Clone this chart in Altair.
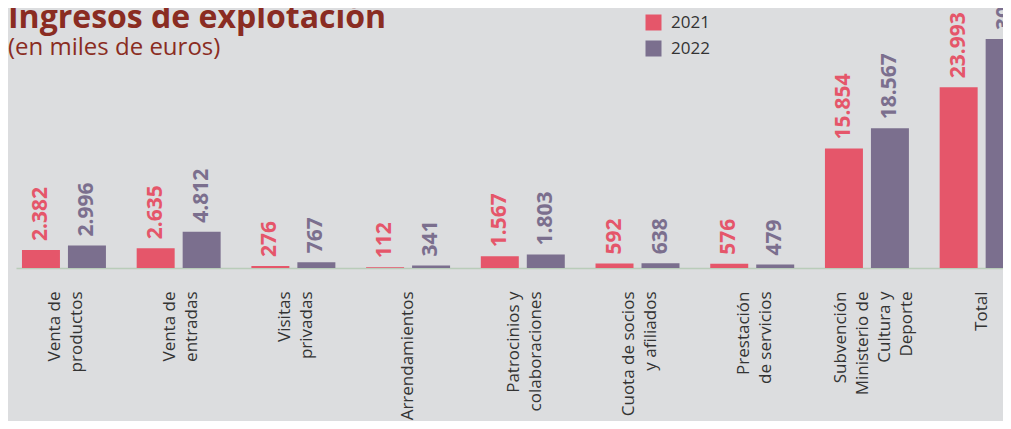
import altair as alt
import pandas as pd

title_text = ["Ingresos de explotación"]
subtitle_text = ["(en miles de euros)"]
categories = [
    "Venta de|productos",
    "Venta de|entradas",
    "Visitas|privadas",
    "Arrendamientos",
    "Patrocinios y|colaboraciones",
    "Cuota de socios|y afiliados",
    "Prestación|de servicios",
    "Subvención|Ministerio de|Cultura y|Deporte",
    "Total",
]
years = ["2021", "2022"]
values_2021 = [2382, 2635, 276, 112, 1567, 592, 576, 15854, 23993]
values_2022 = [2996, 4812, 767, 341, 1803, 638, 479, 18567, 30403]

rows = []
for c, a, b in zip(categories, values_2021, values_2022):
    rows.append({"cat": c, "year": "2021", "value": a})
    rows.append({"cat": c, "year": "2022", "value": b})
df = pd.DataFrame(rows)

BG = "#DCDDDF"
RED = "#E5566A"
PURPLE = "#7B6F8E"
TITLE_COLOR = "#8A2C22"
FONT = "Open Sans"
LINE_H = 22

color_scale = alt.Scale(domain=years, range=[RED, PURPLE])

x_enc = alt.X(
    "cat:N",
    sort=categories,
    scale=alt.Scale(range=[0, 1013.6], paddingInner=0.268, paddingOuter=0.052),
    axis=alt.Axis(
        title=None,
        labelAngle=-90,
        labelExpr="split(datum.label, '|')",
        labelOffset={"expr": "-(length(split(datum.label, '|')) - 1) * 8.5"},
        labelFont=FONT,
        labelFontSize=17,
        labelColor="#333333",
        labelLineHeight=LINE_H,
        labelPadding=23,
        ticks=False,
        domainColor="#B9CCB9",
        domainWidth=1.5,
    ),
)
xoff_enc = alt.XOffset("year:N", sort=years, scale=alt.Scale(paddingInner=0.174))
y_enc = alt.Y("value:Q", scale=alt.Scale(domain=[0, 32000]), axis=None)

base = alt.Chart(df).transform_calculate(
    label="replace(format(datum.value, ','), ',', '.')"
)

bars = base.mark_bar().encode(
    x=x_enc,
    xOffset=xoff_enc,
    y=y_enc,
    color=alt.Color(
        "year:N",
        scale=color_scale,
        legend=alt.Legend(
            orient="none",
            legendX=629,
            legendY=-13,
            title=None,
            symbolType="square",
            symbolSize=256,
            symbolStrokeWidth=0,
            labelFont=FONT,
            labelFontSize=17,
            labelColor="#333333",
            labelOffset=9,
            rowPadding=8,
            padding=0,
        ),
    ),
)

labels = base.mark_text(
    angle=270, align="left", baseline="middle", dx=9,
    font=FONT, fontSize=21, fontWeight="bold",
).encode(
    x=x_enc,
    xOffset=xoff_enc,
    y=y_enc,
    text="label:N",
    color=alt.Color("year:N", scale=color_scale, legend=None),
)

title = alt.Chart(pd.DataFrame({"t": title_text})).mark_text(
    align="left", baseline="alphabetic", font=FONT, fontSize=32,
    fontWeight="bold", color=TITLE_COLOR,
).encode(text="t:N", x=alt.value(-8), y=alt.value(1))

subtitle = alt.Chart(pd.DataFrame({"t": subtitle_text})).mark_text(
    align="left", baseline="alphabetic", font=FONT, fontSize=24,
    color=TITLE_COLOR,
).encode(text="t:N", x=alt.value(-8), y=alt.value(28))

chart = (
    alt.layer(bars, labels, title, subtitle)
    .properties(
        width=987,
        height=241,
        autosize=alt.AutoSizeParams(type="none"),
        padding={"left": 8, "top": 19, "right": 0, "bottom": 153},
    )
    .configure(background=BG)
    .configure_view(stroke=None)
)

chart.save("out.html", embed_options={"renderer": "svg", "actions": False})
